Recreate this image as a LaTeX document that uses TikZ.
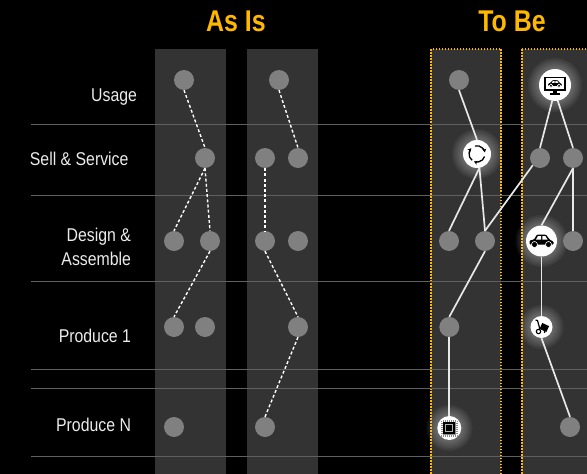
\documentclass[tikz,border=0pt]{standalone}
\usepackage{fontspec}
\usetikzlibrary{arrows.meta}
\setmainfont{Liberation Sans}
\definecolor{panel}{HTML}{333333}
\definecolor{rowline}{HTML}{606060}
\definecolor{dotgray}{HTML}{808080}
\definecolor{gold}{HTML}{FFB800}
\definecolor{edgec}{HTML}{E8E8E8}
\tikzset{
  panelbox/.style={fill=panel,draw=none},
  tobe/.style={panelbox,draw=gold,line width=1.3pt,dash pattern=on 1.5pt off 1.5pt},
  rowrule/.style={draw=rowline,line width=1pt},
  dot/.style={circle,fill=dotgray,draw=none,minimum size=20pt,inner sep=0pt},
  badge/.style={circle,fill=white,draw=none,inner sep=0pt},
  asis/.style={draw=white,line width=1.4pt,dash pattern=on 3pt off 2.2pt},
  tobeline/.style={draw=edgec,line width=1.7pt},
  heading/.style={text=gold,font=\bfseries\fontsize{30}{32}\selectfont,xscale=.83,anchor=center},
  rowlabel/.style={text=white!92!black,font=\fontsize{18.5}{24}\selectfont,xscale=.856,align=right,anchor=east},
  caricon/.pic={
    \fill[black,rounded corners=1pt] (-12,3.5) -- (-12,-.5) -- (-7.5,-1.5) -- (-4.5,-6.5) -- (4.5,-6.5) -- (8,-1.5) -- (12,.5) -- (12,3.5) -- cycle;
    \fill[white] (-5.5,-1.5) -- (-3.5,-5) -- (-.5,-5) -- (-.5,-1.5) -- cycle;
    \fill[white] (.8,-1.5) -- (.8,-5) -- (3.8,-5) -- (6,-1.5) -- cycle;
    \fill[black,draw=white,line width=.6pt] (-7,3.5) circle (3);
    \fill[black,draw=white,line width=.6pt] (7,3.5) circle (3);
  },
}
\newcommand{\glowat}[3]{\foreach \k in {0,1,...,7}{\fill[white,opacity=.045] (#1,#2) circle ({#3+\k*1.6});}}
\begin{document}
\begin{tikzpicture}[x=1pt,y=-1pt]
\useasboundingbox (0,0) rectangle (587,474);
\clip (0,0) rectangle (587,474);
\fill[black] (0,0) rectangle (587,474);
% panels
\fill[panelbox] (155,49) rectangle (226,480);
\fill[panelbox] (247,49) rectangle (318,480);
\path[tobe] (431,49) rectangle (501,480);
\path[tobe] (522,49) rectangle (600,480);
% row rules
\foreach \y in {124,195,281,369,388,456}{\draw[rowrule] (31,\y) -- (587,\y);}
% headings and labels
\node[heading] (hasis) at (236,21) {As Is};
\node[heading] (htobe) at (512,21) {To Be};
\node[rowlabel] (lusage) at (140,97) {Usage};
\node[rowlabel] (lsell) at (131.5,159) {Sell \& Service};
\node[rowlabel] (ldesign) at (134,247) {Design \&\\Assemble};
\node[rowlabel] (lprod1) at (134,336) {Produce 1};
\node[rowlabel] (lprodn) at (134,425) {Produce N};
% glows
\glowat{477}{154}{14}
\glowat{555}{85}{16}
\glowat{541.5}{241}{15}
\glowat{541.5}{327}{11}
\glowat{449.3}{428}{12}
% nodes
\node[dot] (a1) at (184,80) {};
\node[dot] (a2) at (205,158) {};
\node[dot] (a3) at (174,241) {};
\node[dot] (a4) at (210,241) {};
\node[dot] (a5) at (174,327) {};
\node[dot] (a6) at (205,327) {};
\node[dot] (a7) at (174,427) {};
\node[dot] (b1) at (279,80) {};
\node[dot] (b2) at (265,158) {};
\node[dot] (b3) at (298,158) {};
\node[dot] (b4) at (265,241) {};
\node[dot] (b5) at (298,241) {};
\node[dot] (b6) at (298,327) {};
\node[dot] (b7) at (265,427) {};
\node[dot] (c1) at (459,80) {};
\node[badge,minimum size=28pt] (c2) at (477,154) {};
\node[dot] (c3) at (449,241) {};
\node[dot] (c4) at (485,241) {};
\node[dot] (c5) at (449.3,327) {};
\node[badge,minimum size=24pt] (c6) at (449.3,428) {};
\node[badge,minimum size=32pt] (d1) at (555,85) {};
\node[dot] (d2) at (540,158) {};
\node[dot] (d3) at (573,158) {};
\node[badge,minimum size=31pt] (d4) at (541.5,241) {};
\node[dot] (d5) at (573,241) {};
\node[badge,minimum size=22pt] (d6) at (541.5,327) {};
\node[dot] (d7) at (570,427) {};
% connectors
\draw[asis] (a1.south) -- (a2.north);
\draw[asis] (a2.south) -- (a3.north);
\draw[asis] (a2.south) -- (a4.north);
\draw[asis] (a4.south) -- (a5.north);
\draw[asis] (b1.south) -- (b3.north);
\draw[asis] (b2.south) -- (b4.north);
\draw[asis] (b4.south) -- (b6.north);
\draw[asis] (b6.south) -- (b7.north);
\draw[tobeline] (c1.south) -- (c2.north);
\draw[tobeline] (c2.280) -- (c3.north);
\draw[tobeline] (c2.280) -- (c4.north);
\draw[tobeline] (c4.south) -- (c5.north);
\draw[tobeline] (c4.north) -- (d2.225);
\draw[tobeline] (c5.south) -- (c6.north);
\draw[tobeline] (d1.260) -- (d2.north);
\draw[tobeline] (d1.280) -- (d3.north);
\draw[tobeline] (d3.south) -- (d4.north);
\draw[tobeline] (d3.south) -- (d5.north);
\draw[tobeline] (d4.south) -- (d6.north);
\draw[tobeline] (d6.south) -- (d7.north);
% icons
\begin{scope}[shift={(c2.center)}]
  \draw[black,line width=1.3pt,-{Stealth[length=3.6pt,width=4pt]}] (-2,-8) arc (-104:-10:8);
  \draw[black,line width=1.3pt,-{Stealth[length=3.6pt,width=4pt]}] (7.6,2.5) arc (18:112:8);
  \draw[black,line width=1.3pt,-{Stealth[length=3.6pt,width=4pt]}] (-4.9,6.3) arc (128:225:8);
\end{scope}
\begin{scope}[shift={(d1.center)}]
  \draw[black,line width=1.5pt] (-10,-7.5) rectangle (10,5);
  \fill[black] (-1.7,5) rectangle (1.7,8);
  \fill[black] (-5,8) rectangle (5,9.5);
  \pic[scale=.58] at (0,-1.2) {caricon};
\end{scope}
\pic at (d4.center) {caricon};
\begin{scope}[shift={(d6.center)}]
  \fill[black,rotate=-25] (-1,-4) rectangle (6.5,2.5);
  \draw[black,line width=1.2pt] (-6,-7) -- (-4,-6.5) -- (-1.5,2.5);
  \draw[black,line width=1.1pt,fill=white] (-3,4.5) circle (2.2);
  \fill[black] (3,5) circle (1);
\end{scope}
\begin{scope}[shift={(c6.center)}]
  \fill[black!45] (-8.5,-8.5) rectangle (8.5,8.5);
  \foreach \t in {-7.5,-5.5,...,7.5}{
    \draw[white,line width=.5pt] (\t,-8.5) -- (\t,-6.5);
    \draw[white,line width=.5pt] (\t,6.5) -- (\t,8.5);
    \draw[white,line width=.5pt] (-8.5,\t) -- (-6.5,\t);
    \draw[white,line width=.5pt] (6.5,\t) -- (8.5,\t);
  }
  \fill[black] (-6,-6) rectangle (6,6);
  \draw[white!70!black,line width=1.1pt] (-3.6,-3.6) rectangle (3.6,3.6);
\end{scope}
\end{tikzpicture}
\end{document}
